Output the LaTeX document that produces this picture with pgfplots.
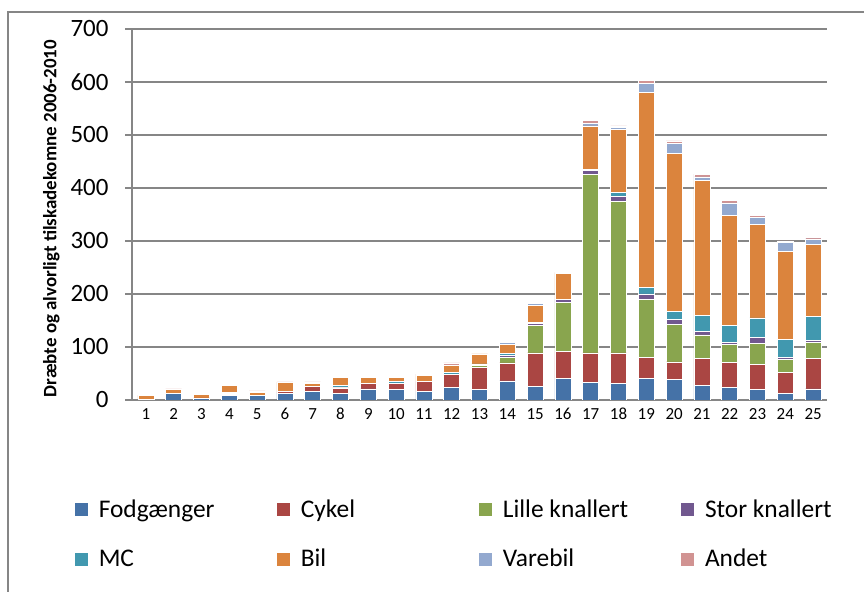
\documentclass[border=0pt]{standalone}
\usepackage{fontspec}
\setmainfont{Carlito}
\usepackage{pgfplots}
\usepackage{pgfplotstable}
\pgfplotsset{compat=1.18}
\definecolor{cF}{HTML}{4572A7}
\definecolor{cC}{HTML}{AA4643}
\definecolor{cL}{HTML}{89A54E}
\definecolor{cS}{HTML}{71588F}
\definecolor{cM}{HTML}{4198AF}
\definecolor{cB}{HTML}{DB843D}
\definecolor{cV}{HTML}{93A9CF}
\definecolor{cA}{HTML}{D19392}
\definecolor{gridg}{HTML}{868686}
\pgfplotstableread{
x F C L S M B V A
1 1 0 0 0 0 7 0 1
2 12 0 0 0 0 8 0 1
3 3 1 0 0 0 6 0 0
4 8 3 2 0 2 12 0 1
5 8 0 0 0 0 6 2 1
6 13 3 0 0 0 17 0 1
7 16 9 0 0 0 7 0 2
8 13 10 1 0 3 16 0 1
9 21 10 0 0 0 12 0 1
10 20 12 0 0 3 8 2 0
11 16 19 0 0 0 11 0 3
12 24 24 1 0 3 13 0 5
13 20 42 3 0 3 19 0 1
14 36 34 11 3 4 17 3 2
15 26 63 51 5 2 32 4 0
16 40 51 93 6 0 49 0 2
17 33 56 337 7 2 82 5 6
18 31 58 286 9 7 120 4 2
19 40 40 110 10 12 368 18 5
20 39 33 71 9 15 298 19 5
21 28 50 45 6 30 255 7 5
22 24 47 34 3 32 208 24 4
23 20 47 40 11 37 176 14 3
24 13 39 24 4 35 165 17 3
25 21 57 31 4 44 137 10 3
}\data
\newcommand{\lt}[1]{\makebox[183.5bp][l]{\hspace*{8bp}#1}}
\begin{document}
\begin{tikzpicture}
\useasboundingbox (0,0) rectangle (864bp,592bp);
\draw[gridg, line width=1.3bp] (8bp,-2bp) -- (8bp,580bp) -- (866bp,580bp);
\begin{axis}[
  at={(132bp,192bp)}, anchor=south west,
  scale only axis, width=695bp, height=371bp,
  ybar stacked, bar width=16bp,
  xmin=0.5, xmax=25.5, ymin=0, ymax=700,
  xtick={1,...,25}, ytick={0,100,...,700},
  axis x line*=bottom, axis y line*=left,
  axis line style={gridg, line width=1.2bp, -},
  ymajorgrids, grid style={gridg, line width=1.2bp},
  x tick style={draw=none}, y tick style={gridg, line width=1.2bp},
  tick align=outside, major tick length=7bp,
  /pgf/number format/assume math mode=true,
  xticklabel style={font=\fontsize{17}{19}\selectfont, text height=11bp, text depth=0pt, yshift=2bp},
  yticklabel style={font=\fontsize{25}{28}\selectfont, xshift=-13bp},
  ylabel={\textbf{Dræbte og alvorligt tilskadekomne 2006-2010}},
  ylabel style={font=\fontsize{19}{21}\selectfont, at={(axis description cs:-0.116,0.489)}, anchor=center},
  legend columns=4,
  legend style={draw=none, fill=none, at={(axis description cs:-0.0835,-0.264)}, anchor=north west,
    font=\fontsize{25.5}{29}\selectfont, inner sep=0pt, row sep=26bp,
    /tikz/every even column/.append style={column sep=0bp}},
  legend cell align=left,
  legend image code/.code={\fill[#1] (0bp,-7bp) rectangle (14bp,7bp);},
  every axis plot/.append style={draw=white, line width=0.6bp},
]
\addplot[fill=cF] table[x=x,y=F]{\data}; \addlegendentry{\lt{Fodgænger}}
\addplot[fill=cC] table[x=x,y=C]{\data}; \addlegendentry{\lt{Cykel}}
\addplot[fill=cL] table[x=x,y=L]{\data}; \addlegendentry{\lt{Lille knallert}}
\addplot[fill=cS] table[x=x,y=S]{\data}; \addlegendentry{\hspace*{8bp}Stor knallert}
\addplot[fill=cM] table[x=x,y=M]{\data}; \addlegendentry{\lt{MC}}
\addplot[fill=cB] table[x=x,y=B]{\data}; \addlegendentry{\lt{Bil}}
\addplot[fill=cV] table[x=x,y=V]{\data}; \addlegendentry{\lt{Varebil}}
\addplot[fill=cA] table[x=x,y=A]{\data}; \addlegendentry{\hspace*{8bp}Andet}
\end{axis}
\end{tikzpicture}
\end{document}
